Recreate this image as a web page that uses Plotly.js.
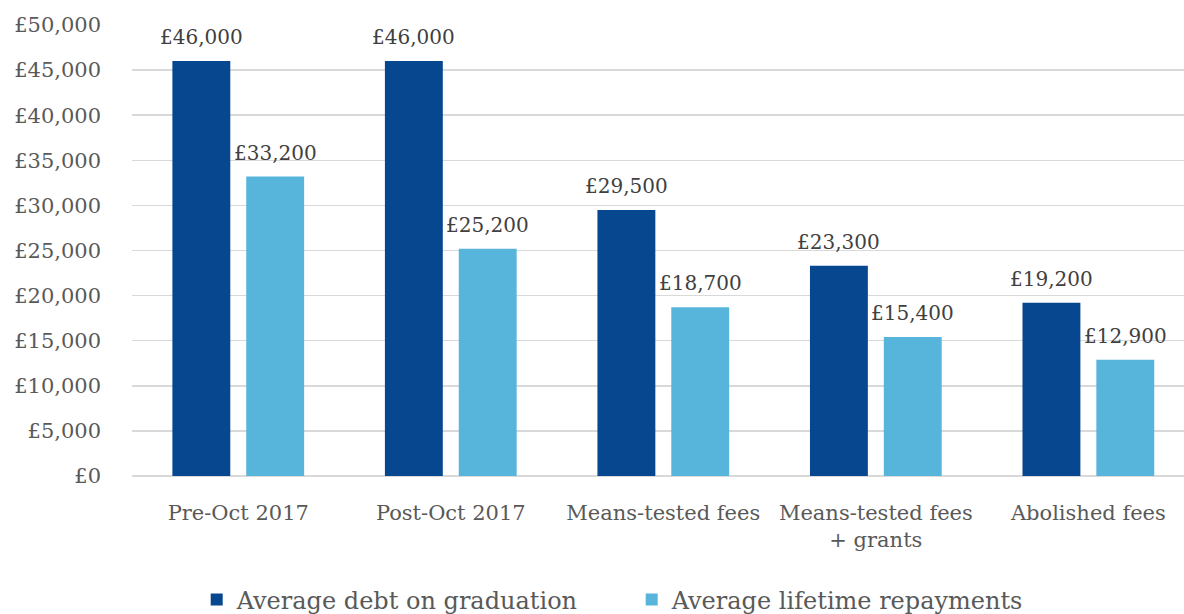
<!DOCTYPE html>
<html><head><meta charset="utf-8">
<script src="https://cdn.plot.ly/plotly-3.0.1.min.js"></script>
<style>html,body{margin:0;padding:0;background:#fff}#chart{width:1184px;height:614px}</style>
</head><body><div id="chart"></div>
<script>
const categories = ["Pre-Oct 2017", "Post-Oct 2017", "Means-tested fees", "Means-tested fees<br>+ grants", "Abolished fees"];
const debtValues = [46000, 46000, 29500, 23300, 19200];
const repaymentValues = [33200, 25200, 18700, 15400, 12900];
const seriesNames = ["Average debt on graduation", "Average lifetime repayments"];
const yTickVals = [0, 5000, 10000, 15000, 20000, 25000, 30000, 35000, 40000, 45000, 50000];
const yTickText = ["£0", "£5,000", "£10,000", "£15,000", "£20,000", "£25,000", "£30,000", "£35,000", "£40,000", "£45,000", "£50,000"];

const fmt = v => "£" + v.toLocaleString("en-GB");
const font = "DejaVu Serif, Liberation Serif, serif";
const txtColor = "#595959";

const traces = [
  {type: "bar", name: seriesNames[0], x: categories, y: debtValues,
   marker: {color: "#07478f"}, hoverinfo: "skip"},
  {type: "bar", name: seriesNames[1], x: categories, y: repaymentValues,
   marker: {color: "#57b5dc"}, hoverinfo: "skip"}
];

const annotations = [];
[[debtValues, -37], [repaymentValues, 37]].forEach(([vals, dx]) => {
  vals.forEach((v, i) => annotations.push({
    x: categories[i], y: v, xref: "x", yref: "y", text: fmt(v), showarrow: false,
    xanchor: "center", yanchor: "middle", xshift: dx, yshift: 24,
    font: {family: font, size: 20, color: "#404040"}
  }));
});

const layout = {
  width: 1184, height: 614,
  margin: {l: 132, r: 0, t: 25, b: 138},
  paper_bgcolor: "#fff", plot_bgcolor: "#fff",
  barmode: "group", bargap: 0.305, bargroupgap: 0.216,
  font: {family: font, color: txtColor},
  xaxis: {type: "category", range: [-0.5, 4.45], tickfont: {family: font, size: 21, color: txtColor},
          ticks: "", showgrid: false, showline: false, zeroline: false, ticklabelstandoff: 22, fixedrange: true},
  yaxis: {range: [0, 50000], tickvals: yTickVals, ticktext: yTickText,
          tickfont: {family: font, size: 21, color: txtColor},
          showgrid: true, gridcolor: "#d9d9d9", gridwidth: 1.5, zeroline: true, zerolinecolor: "#d9d9d9", zerolinewidth: 1.5,
          showline: false, ticks: "", ticklabelstandoff: 30, fixedrange: true},
  annotations: annotations,
  showlegend: true,
  legend: {orientation: "h", x: 0.475, xanchor: "center", xref: "paper", yref: "container", y: 0.023, yanchor: "middle",
           font: {family: font, size: 24, color: txtColor}, itemwidth: 30, tracegroupgap: 0, entrywidth: 390},
};

Plotly.newPlot("chart", traces, layout, {displayModeBar: false, staticPlot: true});
</script></body></html>
